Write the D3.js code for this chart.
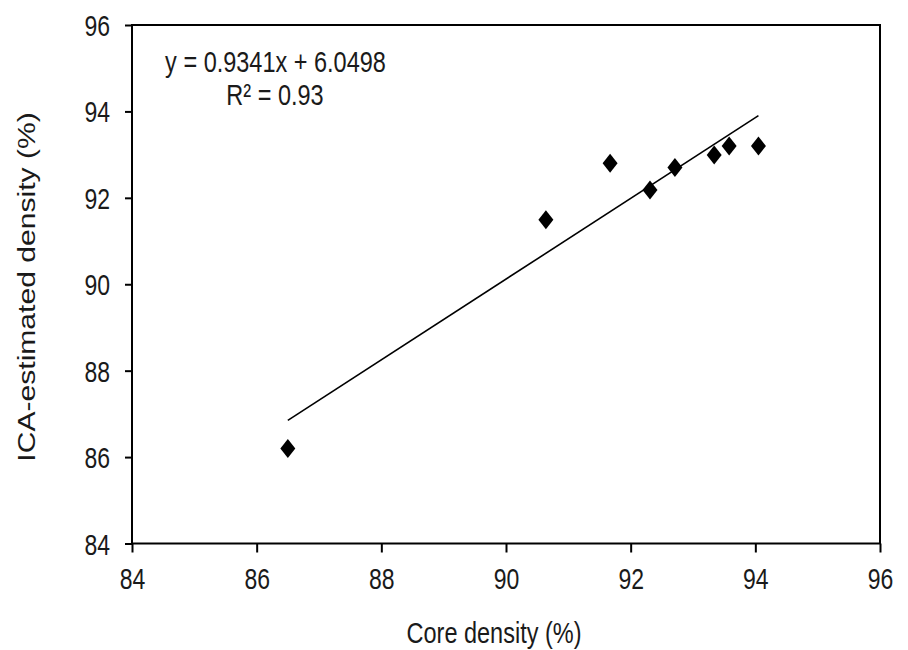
<!DOCTYPE html>
<html>
<head>
<meta charset="utf-8">
<style>
  body { margin: 0; background: #fff; }
  text { font-family: "Liberation Sans", Arial, sans-serif; fill: #1a1a1a; }
</style>
</head>
<body>
<svg id="chart"></svg>
<script src="https://d3js.org/d3.v7.min.js"></script>
<script>
  // core density vs ICA-estimated density (%)
  const coreDensity = [86.5, 90.64, 91.67, 92.31, 92.71, 93.34, 93.58, 94.05];
  const icaDensity = [86.2, 91.49, 92.8, 92.18, 92.7, 92.99, 93.2, 93.2];
  const xTicks = [84, 86, 88, 90, 92, 94, 96];
  const yTicks = [84, 86, 88, 90, 92, 94, 96];
  const slope = 0.9341;
  const intercept = 6.0498;
  const r2 = 0.93;

  const width = 908;
  const height = 650;
  const stretch = 1.28; // the text in the picture is a bit taller than wide

  const svg = d3.select("#chart").attr("width", width).attr("height", height);

  const x = d3.scaleLinear().domain([84, 96]).range([132, 880]);
  const y = d3.scaleLinear().domain([84, 96]).range([543.5, 25]);

  // frame
  svg.append("rect")
    .attr("x", x(84)).attr("y", y(96))
    .attr("width", x(96) - x(84)).attr("height", y(84) - y(96))
    .attr("fill", "none").attr("stroke", "#000").attr("stroke-width", 2);

  const xAxis = svg.append("g")
    .attr("transform", `translate(0,${y(84)})`)
    .call(d3.axisBottom(x).tickValues(xTicks).tickSize(9).tickFormat(d3.format("d")));
  xAxis.select(".domain").remove();
  xAxis.selectAll(".tick line").attr("stroke", "#000").attr("stroke-width", 2);
  xAxis.selectAll(".tick text")
    .attr("y", 0).attr("dy", 0)
    .attr("transform", `translate(0,45.5) scale(1,${stretch})`)
    .attr("font-size", 23).attr("fill", "#1a1a1a");

  const yAxis = svg.append("g")
    .attr("transform", `translate(${x(84)},0)`)
    .call(d3.axisLeft(y).tickValues(yTicks).tickSize(7).tickFormat(d3.format("d")));
  yAxis.select(".domain").remove();
  yAxis.selectAll(".tick line").attr("stroke", "#000").attr("stroke-width", 2);
  yAxis.selectAll(".tick text")
    .attr("x", 0).attr("dy", 0)
    .attr("transform", `translate(-22,10.5) scale(1,${stretch})`)
    .attr("font-size", 23).attr("fill", "#1a1a1a");

  // trend line over the range of the data
  const [x0, x1] = d3.extent(coreDensity);
  svg.append("line")
    .attr("x1", x(x0)).attr("y1", y(slope * x0 + intercept))
    .attr("x2", x(x1)).attr("y2", y(slope * x1 + intercept))
    .attr("stroke", "#000").attr("stroke-width", 1.6);

  // diamonds
  const diamond = (hw, hh) => `M0,${-hh}L${hw},0L0,${hh}L${-hw},0Z`;
  svg.append("g")
    .selectAll("path")
    .data(coreDensity.map((d, i) => [d, icaDensity[i]]))
    .join("path")
    .attr("d", diamond(7.5, 9.5))
    .attr("transform", (d) => `translate(${x(d[0])},${y(d[1])})`)
    .attr("fill", "#000");

  // equation
  svg.append("text")
    .attr("text-anchor", "middle")
    .attr("transform", `translate(275.5,72) scale(1,${stretch})`)
    .attr("font-size", 23.5)
    .text(`y = ${slope}x + ${intercept}`);
  svg.append("text")
    .attr("text-anchor", "middle")
    .attr("transform", `translate(275,105) scale(1,${stretch})`)
    .attr("font-size", 23.5)
    .text(`R² = ${r2}`);

  // axis titles
  svg.append("text")
    .attr("text-anchor", "middle")
    .attr("transform", `translate(494,642.5) scale(1,${stretch})`)
    .attr("font-size", 23.5)
    .text("Core density (%)");
  svg.append("text")
    .attr("text-anchor", "middle")
    .attr("transform", `translate(35,287) rotate(-90) scale(${stretch},1)`)
    .attr("font-size", 23.5)
    .text("ICA-estimated density (%)");
</script>
</body>
</html>
